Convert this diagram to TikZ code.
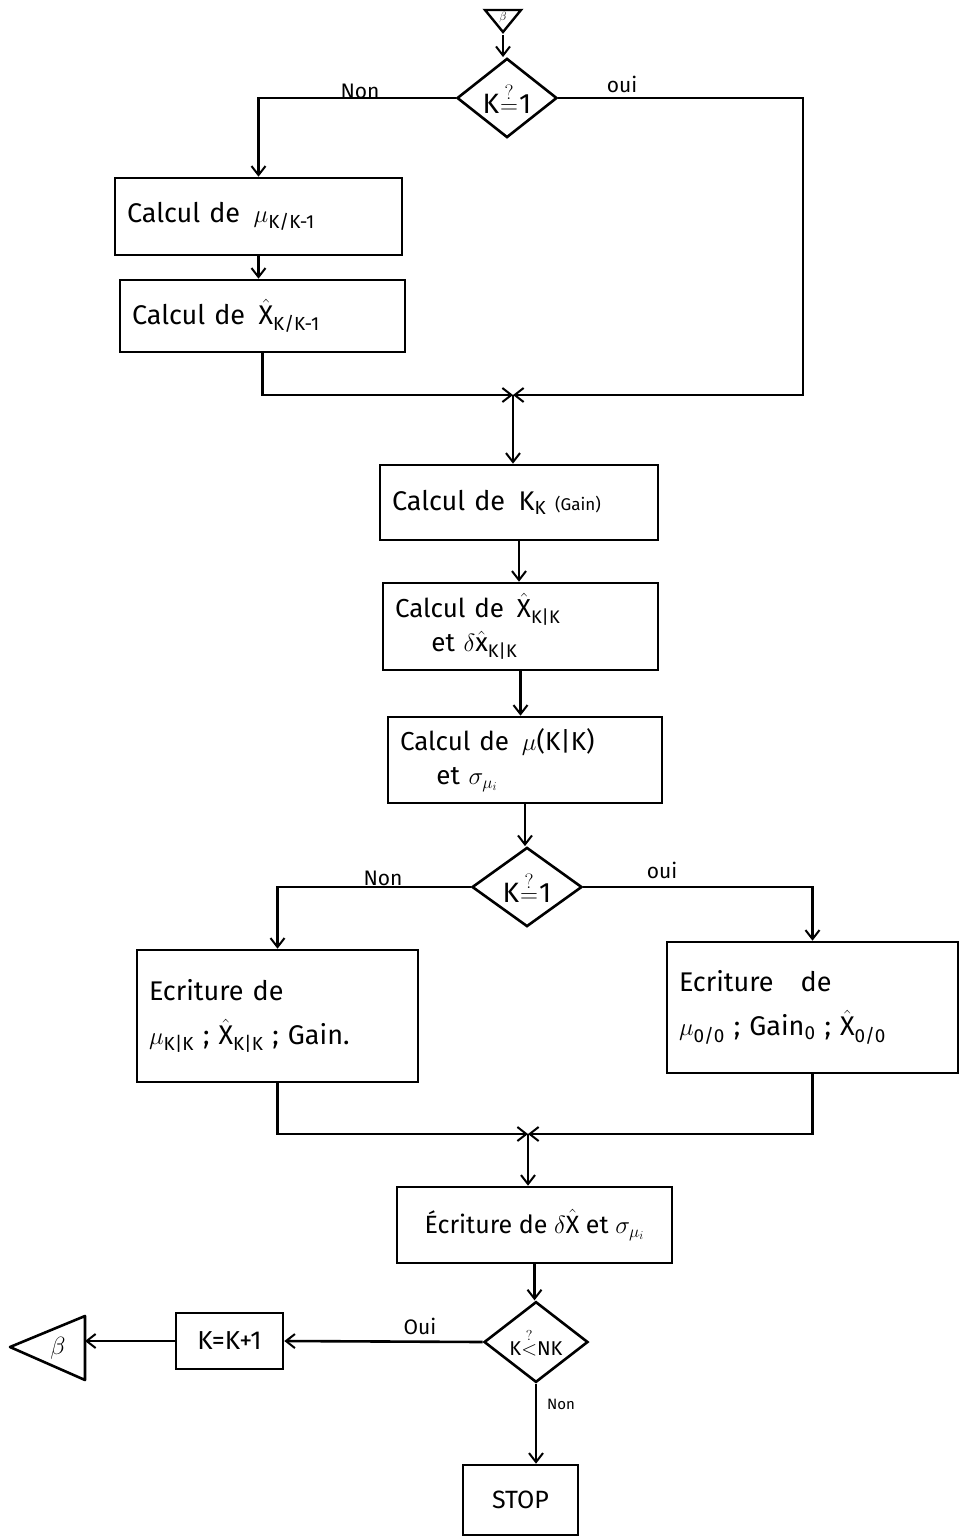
\documentclass[tikz,border=0pt]{standalone}
\usepackage{amsmath}
\usepackage{fontspec}
\setmainfont{Fira Sans}
\usetikzlibrary{shapes.geometric,arrows.meta,calc}
\newcommand{\tx}[1]{\text{#1}}
\begin{document}
\begin{tikzpicture}[x=1pt,y=-1pt,
  fbox/.style={draw,line width=2.6pt,inner xsep=12pt,inner ysep=6pt,align=left,font=\fontsize{27}{36}\selectfont},
  cbox/.style={draw,line width=2.6pt,inner sep=4pt,align=center,font=\fontsize{25}{30}\selectfont},
  dia/.style={draw,diamond,line width=2.6pt,inner sep=0pt,font=\fontsize{28}{30}\selectfont},
  tri/.style={draw,isosceles triangle,isosceles triangle stretches,line width=2.4pt,inner sep=0pt},
  arr/.style={line width=2.6pt,-{Straight Barb[length=9pt,width=14pt,line width=2pt]}},
  tline/.style={line width=2.6pt,line join=round},
  lab/.style={font=\fontsize{21}{24}\selectfont,inner sep=1pt}]
\useasboundingbox (0,0) rectangle (961,1536);
\fill[white] (0,0) rectangle (961,1536);

% top connector
\node[tri,shape border rotate=270,minimum width=36,minimum height=22,font=\fontsize{12}{12}\selectfont] (top) at (503,18) {$\beta$};
\node[dia,minimum width=100,minimum height=72] (d1) at (507,98) {K\kern1pt$\overset{?}{=}$\kern1pt1};

\node[fbox,text width=263,minimum height=77] (b1) at (258.5,216.5) {Calcul de\enspace$\mu_{\tx{K/K-1}}$};
\node[fbox,text width=261,minimum height=72] (b2) at (262.5,316) {Calcul de\enspace$\hat{\tx{X}}_{\tx{K/K-1}}$};
\node[fbox,text width=254,minimum height=75] (b3) at (519,502.5) {Calcul de\enspace K$_{\tx{K}}$ {\fontsize{17}{20}\selectfont(Gain)}};
\node[fbox,text width=251,minimum height=87,font=\fontsize{26}{34}\selectfont] (b4) at (520.5,626.5) {Calcul de\enspace$\hat{\tx{X}}_{\tx{K|K}}$\\\hspace*{1.4em}et $\delta\hat{\tx{x}}_{\tx{K|K}}$};
\node[fbox,text width=250,minimum height=86,font=\fontsize{26}{34}\selectfont] (b5) at (525,760) {Calcul de\enspace$\mu$(K|K)\\\hspace*{1.4em}et $\sigma_{\mu_i}$};
\node[dia,minimum width=110,minimum height=70] (d2) at (527,887) {K\kern1pt$\overset{?}{=}$\kern1pt1};

\node[fbox,text width=257,minimum height=132,font=\fontsize{27}{44}\selectfont] (b6) at (277.5,1016) {Ecriture de\\$\mu_{\tx{K|K}}$ ; $\hat{\tx{X}}_{\tx{K|K}}$ ; Gain.};
\node[fbox,text width=267,minimum height=131,font=\fontsize{27}{44}\selectfont] (b7) at (812.5,1007.5) {Ecriture\quad de\\$\mu_{\tx{0/0}}$ ; Gain$_{\tx{0}}$ ; $\hat{\tx{X}}_{\tx{0/0}}$};

\node[cbox,minimum width=275,minimum height=76] (b8) at (534.5,1225) {Écriture de $\delta\hat{\tx{X}}$ et $\sigma_{\mu_i}$};
\node[dia,minimum width=104,minimum height=76,font=\fontsize{20}{22}\selectfont] (d3) at (536,1342) {K$\overset{?}{<}$NK};
\node[cbox,minimum width=107,minimum height=56,font=\fontsize{26}{30}\selectfont] (b9) at (229.5,1341) {K=K+1};
\node[cbox,minimum width=115,minimum height=70] (stop) at (520.5,1500) {STOP};

% left connector triangle
\draw[tline] (10,1347) -- (85,1316) -- (85,1380) -- cycle;
\node[font=\fontsize{26}{30}\selectfont] (betatxt) at (58,1348) {$\beta$};
\coordinate (betaE) at (85,1341);

% junctions
\coordinate (m1) at (513,395);
\coordinate (r1) at (803,395);
\coordinate (m2) at (528,1134);

% connectors
\draw[arr] (top.apex) -- (top.apex |- d1.north);
\draw[arr] (d1.west) -| (b1.north);
\draw[arr] (b1.south) -- (b1.south |- b2.north);
\draw[arr] (d1.east) -| (r1) -- (m1);
\draw[arr] (b2.south) |- (m1);
\draw[arr] (m1) -- (m1 |- b3.north);
\draw[arr] (b3.south) -- (b3.south |- b4.north);
\draw[arr] (b4.south) -- (b4.south |- b5.north);
\draw[arr] (b5.south) -- (b5.south |- d2.north);
\draw[arr] (d2.west) -| (b6.north);
\draw[arr] (d2.east) -| (b7.north);
\draw[arr] (b6.south) |- (m2);
\draw[arr] (b7.south) |- (m2);
\draw[arr] (m2) -- (m2 |- b8.north);
\draw[arr] (b8.south) -- (b8.south |- d3.north);
\draw[arr] (d3.west) -- (b9.east);
\draw[arr] (b9.west) -- (betaE);
\draw[arr] (d3.south) -- (d3.south |- stop.north);

% labels
\node[lab] (l1) at (360,91) {Non};
\node[lab] (l2) at (622,84) {oui};
\node[lab] (l3) at (383,878) {Non};
\node[lab] (l4) at (662,870) {oui};
\node[lab] (l5) at (420,1326) {Oui};
\node[lab,font=\fontsize{15}{16}\selectfont] (l6) at (561,1404) {Non};
\end{tikzpicture}
\end{document}
